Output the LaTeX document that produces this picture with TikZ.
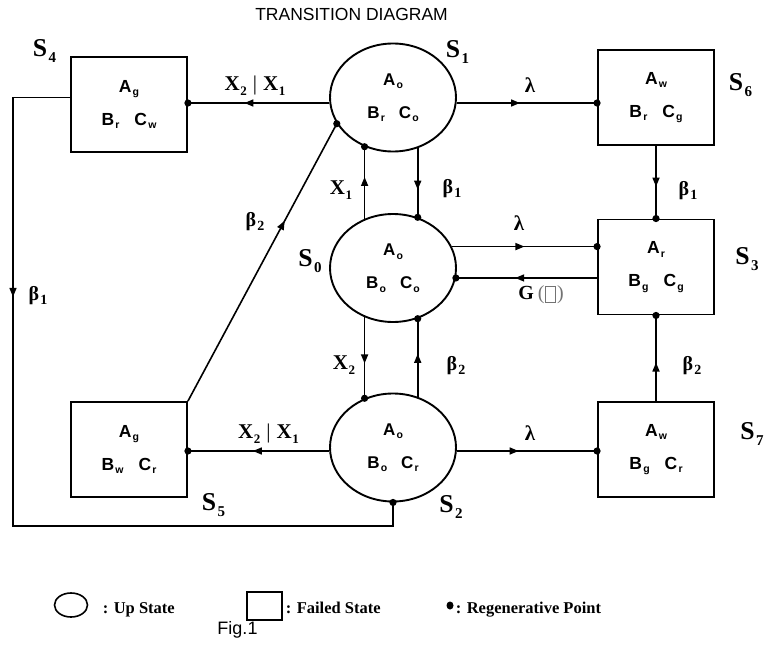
\documentclass[tikz,border=0pt]{standalone}
\usepackage{fontspec}
\setmainfont{Liberation Serif}
\newfontfamily\arial{Liberation Sans}
\usetikzlibrary{shapes.geometric,arrows.meta,decorations.markings}

\newcommand\fsz[1]{\fontsize{#1}{#1}\selectfont}
\newcommand\Slab[1]{S\kern1.5pt\raisebox{-6pt}{\fsz{15}#1}}
\newcommand\Xs[1]{X\kern0.5pt\raisebox{-5pt}{\fsz{13}#1}}
\newcommand\Gk[2]{#1\kern1pt\raisebox{-4pt}{\fsz{14}#2}}
\newcommand\bs[2]{#1\kern1.2pt\raisebox{-3.5pt}{\fsz{10.5}#2}}

\begin{document}
\begin{tikzpicture}[x=1pt,y=-1pt,line width=1.6pt,
  upstate/.style={ellipse,draw,line width=1.9pt,minimum width=126pt,minimum height=108pt,inner sep=0pt,align=center,
    font=\arial\bfseries\fontsize{17}{33}\selectfont},
  failstate/.style={rectangle,draw,line width=1.9pt,minimum width=116pt,minimum height=95pt,inner sep=0pt,align=center,
    font=\arial\bfseries\fontsize{17.5}{33}\selectfont},
  slab/.style={font=\bfseries\fsz{25.7},inner sep=0pt},
  xlab/.style={font=\bfseries\fsz{21},inner sep=0pt},
  glab/.style={font=\bfseries\fsz{20},inner sep=0pt},
  llab/.style={font=\bfseries\fsz{21},inner sep=0pt},
  legtext/.style={font=\bfseries\fsz{16.5},inner sep=0pt,anchor=base west},
  arrowat/.style={postaction={decorate},decoration={markings,
    mark=at position #1 with {\arrow{Triangle[length=9pt,width=7pt]}}}},
]
\useasboundingbox (0,0) rectangle (767,650);

% title
\node[font=\arial\fsz{17.5},inner sep=0pt] (title) at (351.5,14.5) {TRANSITION DIAGRAM};

% states
\node[upstate] (S1) at (393,97.5) {\bs{A}{o}\\\bs{B}{r}\hspace{14pt}\bs{C}{o}};
\node[upstate] (S0) at (393,268) {\bs{A}{o}\\\bs{B}{o}\hspace{14pt}\bs{C}{o}};
\node[upstate] (S2) at (393,447.5) {\bs{A}{o}\\\bs{B}{o}\hspace{14pt}\bs{C}{r}};
\node[failstate] (S4) at (129,104.5) {\bs{A}{g}\\\bs{B}{r}\hspace{15pt}\bs{C}{w}};
\node[failstate] (S5) at (129,449.5) {\bs{A}{g}\\\bs{B}{w}\hspace{15pt}\bs{C}{r}};
\node[failstate] (S6) at (656,97.5) {\bs{A}{w}\\\bs{B}{r}\hspace{15pt}\bs{C}{g}};
\node[failstate] (S3) at (656,267) {\bs{A}{r}\\\bs{B}{g}\hspace{15pt}\bs{C}{g}};
\node[failstate] (S7) at (656,449.5) {\bs{A}{w}\\\bs{B}{g}\hspace{15pt}\bs{C}{r}};

% state labels
\node[slab] (t4) at (44.5,50.5) {\Slab{4}};
\node[slab] (t1) at (457.5,52) {\Slab{1}};
\node[slab] (t6) at (740.5,85) {\Slab{6}};
\node[slab] (t0) at (310,261) {\Slab{0}};
\node[slab] (t3) at (747,259) {\Slab{3}};
\node[slab] (t5) at (213.5,505) {\Slab{5}};
\node[slab] (t2) at (451,507) {\Slab{2}};
\node[slab] (t7) at (752,434) {\Slab{7}};

% connectors
\draw[arrowat=0.6] ([yshift=-5.5pt]S1.west) -- ([yshift=-5.5pt]S1.west -| S4.east) coordinate (e14);
\fill (e14) circle (3.6pt);
\draw[arrowat=0.45] ([yshift=-5.5pt]S1.east) -- ([yshift=-5.5pt]S1.east -| S6.west) coordinate (e16);
\fill (e16) circle (3.6pt);

\draw[arrowat=0.58] (S0.120) -- (S1.240);
\fill (S1.240) circle (3.6pt);
\draw[arrowat=0.6] (S1.296) -- (S0.64);
\fill (S0.64) circle (3.6pt);

\draw[arrowat=0.5] (S0.20) -- (S0.20 -| S3.west) coordinate (e03);
\fill (e03) circle (3.6pt);
\draw[arrowat=0.58] (S0.351 -| S3.west) -- (S0.351);
\fill (S0.351) circle (3.6pt);

\draw[arrowat=0.57] (S0.240) -- (S2.120);
\fill (S2.120) circle (3.6pt);
\draw[arrowat=0.55] (S2.64) -- (S0.296);
\fill (S0.296) circle (3.6pt);

\draw[arrowat=0.54] ([yshift=-3.5pt]S2.west) -- ([yshift=-3.5pt]S2.west -| S5.east) coordinate (e25);
\fill (e25) circle (3.6pt);
\draw[arrowat=0.44] ([yshift=-3.5pt]S2.east) -- ([yshift=-3.5pt]S2.east -| S7.west) coordinate (e27);
\fill (e27) circle (3.6pt);

\draw[arrowat=0.65] (S5.north east) -- (S1.205);
\fill (S1.205) circle (3.6pt);

\coordinate (L1) at (13,97.7);
\coordinate (L2) at (13,526);
\draw[line join=miter] ([yshift=6.8pt]S4.west) -- (L1) -- (L2) -| (S2.south);
\draw[arrowat=0.465] (L1) -- (L2);
\fill (S2.south) circle (3.6pt);

\draw[arrowat=0.56] (S6.south) -- (S3.north);
\fill (S3.north) circle (3.6pt);
\draw[arrowat=0.45] (S7.north) -- (S3.south);
\fill (S3.south) circle (3.6pt);

% transition labels
\node[xlab] (lx14) at (255,85.5) {\Xs{2}\hspace{6pt}{\mdseries|}\hspace{6pt}\Xs{1}};
\node[xlab] (lx25) at (268.5,434) {\Xs{2}\hspace{6pt}{\mdseries|}\hspace{6pt}\Xs{1}};
\node[xlab] (lx1) at (341,190) {\Xs{1}};
\node[xlab] (lx2) at (344,365) {\Xs{2}};
\node[llab] (ll16) at (530,85) {λ};
\node[llab] (ll03) at (519,223) {λ};
\node[llab] (ll27) at (530,433) {λ};
\node[glab] (lb1a) at (452,189) {\Gk{β}{1}};
\node[glab] (lb1b) at (688,191) {\Gk{β}{1}};
\node[glab] (lb1c) at (38,296) {\Gk{β}{1}};
\node[glab] (lb2a) at (456,366) {\Gk{β}{2}};
\node[glab] (lb2b) at (692,366) {\Gk{β}{2}};
\node[glab] (lb2c) at (255,222) {\Gk{β}{2}};
\node[glab] (lg) at (541,295) {G\hspace{4pt}{\color{black!55}\mdseries(\kern1pt{\setlength\fboxsep{0pt}\setlength\fboxrule{0.8pt}\fbox{\rule[-2pt]{0pt}{15pt}\hspace{9pt}}}\kern1pt)}};

% legend
\node[ellipse,draw,minimum width=33pt,minimum height=24pt,inner sep=0pt] (lgup) at (71,605) {};
\node[legtext] (lgupt) at (102,613.5) {: Up State};
\node[draw,minimum width=35pt,minimum height=28pt,inner sep=0pt] (lgfail) at (264.5,606) {};
\node[legtext] (lgfailt) at (285,613.5) {: Failed State};
\node[ellipse,fill,minimum width=7pt,minimum height=8pt,inner sep=0pt] (lgdot) at (450,605.5) {};
\node[legtext] (lgregt) at (455,613.5) {: Regenerative Point};
\node[font=\arial\fsz{18},inner sep=0pt] (fig) at (237.5,630) {Fig.1};
\end{tikzpicture}
\end{document}
